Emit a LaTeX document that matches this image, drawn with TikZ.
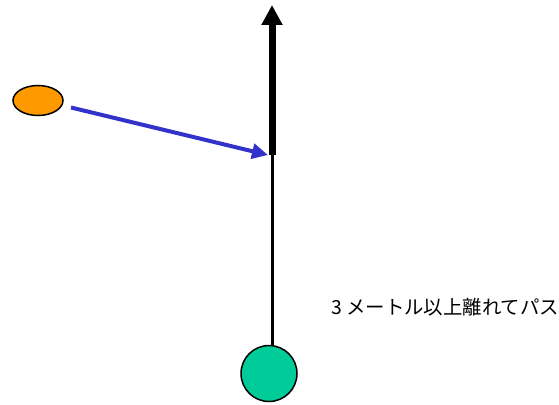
\documentclass[tikz,border=0pt]{standalone}
\usepackage{fontspec}
\usetikzlibrary{arrows.meta,shapes.geometric}
\newfontfamily\jpfont{Noto Sans CJK JP}
\definecolor{runnerorange}{HTML}{FF9900}
\definecolor{ballgreen}{HTML}{00CC99}
\definecolor{passblue}{HTML}{3333CC}

\begin{document}
\begin{tikzpicture}[x=1pt,y=-1pt,
    player/.style={draw=black,line width=1.5pt,inner sep=0pt},
    runline/.style={line width=7pt,-{Triangle[width=20pt,length=20pt]}},
    passline/.style={passblue,line width=4pt,-{Triangle[width=15pt,length=16pt]}}]
  \useasboundingbox (0,0) rectangle (559,404);
  \node[player,ellipse,fill=runnerorange,minimum width=50pt,minimum height=30pt] (runner) at (38,100.5) {};
  \node[player,circle,fill=ballgreen,minimum size=56pt] (ball) at (269,373.5) {};
  \coordinate (turn) at (272,155);
  \coordinate (goal) at (272,5);
  \coordinate (kick) at (71,107.5);
  \coordinate (pass) at (268,155);
  \draw[line width=3pt] (ball.north -| turn) -- (turn);
  \draw[runline] (turn) -- (goal);
  \draw[passline] (kick) -- (pass);
  \node[anchor=west,inner sep=0pt,font=\jpfont\fontsize{19.4}{19.4}\selectfont] (label) at (331,307) {3 メートル以上離れてパス};
\end{tikzpicture}
\end{document}
